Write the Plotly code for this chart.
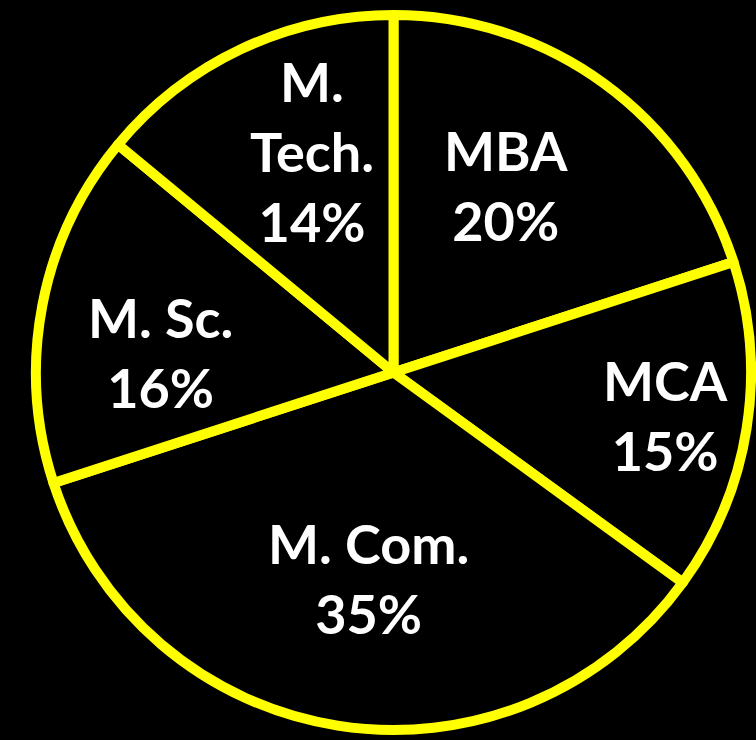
import math
import plotly.graph_objects as go

# ─── Datos ───────────────────────────────────────────────────────────────
cursos = ["MBA", "MCA", "M. Com.", "M. Sc.", "M. Tech."]
etiquetas = ["MBA", "MCA", "M. Com.", "M. Sc.", "M.<br>Tech."]
porcentajes = [20, 15, 35, 16, 14]

# ─── Estilo ──────────────────────────────────────────────────────────────
AMARILLO = "#FFFF00"
FONDO = "#000000"
radio_frac = [0.61, 0.77, 0.58, 0.655, 0.66]   # distancia de la etiqueta al centro
giro_grados = [-5, 0, -2, -6, 5]                # ajuste angular de la etiqueta

W, H = 756, 740
M = dict(l=35, r=4, t=15, b=10)
ancho = W - M["l"] - M["r"]
alto = H - M["t"] - M["b"]
radio = min(ancho, alto) / 2

fig = go.Figure(go.Pie(
    labels=cursos,
    values=porcentajes,
    sort=False,
    direction="clockwise",
    rotation=0,
    marker=dict(colors=[FONDO] * len(cursos), line=dict(color=AMARILLO, width=10)),
    textinfo="none",
    hoverinfo="label+percent",
    showlegend=False,
))

# Etiquetas colocadas sobre el ángulo medio de cada rebanada
total = sum(porcentajes)
acum = 0
for i, (txt, v) in enumerate(zip(etiquetas, porcentajes)):
    medio = (acum + v / 2) / total * 360 + giro_grados[i]
    acum += v
    r = radio * radio_frac[i]
    x = 0.5 + r * math.sin(math.radians(medio)) / ancho
    y = 0.5 + r * math.cos(math.radians(medio)) / alto
    fig.add_annotation(
        x=x, y=y, xref="paper", yref="paper",
        text=f"<b>{txt}<br>{v}%</b>",
        showarrow=False, xanchor="center", yanchor="middle",
        font=dict(family="Lato", size=54, color="white"),
    )

fig.update_layout(
    width=W, height=H,
    margin=M,
    paper_bgcolor=FONDO,
    plot_bgcolor=FONDO,
)

fig.write_html(
    "out.html",
    config={"displayModeBar": False},
    post_script="document.body.style.margin='0';document.body.style.background='black';",
)
